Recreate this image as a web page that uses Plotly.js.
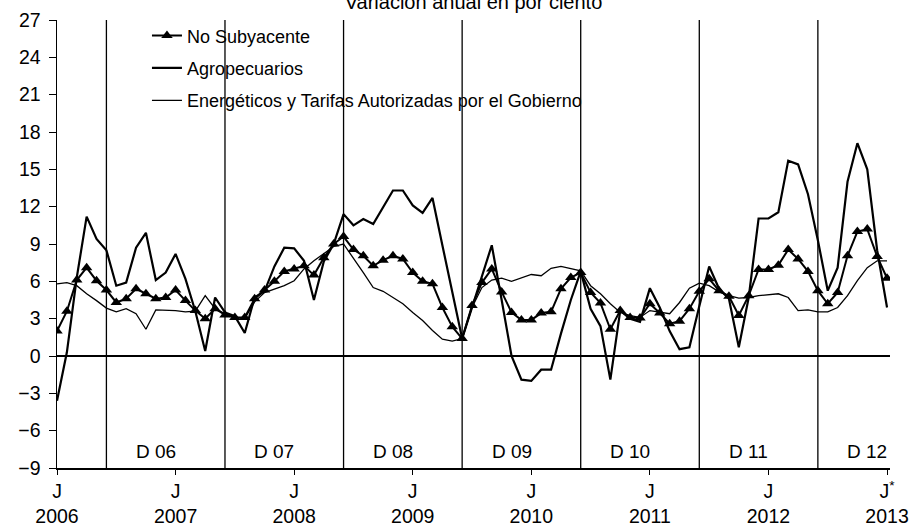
<!DOCTYPE html>
<html>
<head>
<meta charset="utf-8">
<script src="https://cdn.plot.ly/plotly-3.0.1.min.js"></script>
<style>
    html, body { margin: 0; padding: 0; background: #ffffff; }
    #chart { width: 919px; height: 531px; }
</style>
</head>
<body>
<div id="chart"></div>
<script>
// Monthly index, 0 = Julio 2006 ... 84 = Julio 2013
const noSubyacente = [
    2.0, 3.6, 6.1, 7.1, 6.05, 5.3, 4.3, 4.6, 5.4, 5.0, 4.6, 4.7,
    5.3, 4.45, 3.65, 3.0, 3.8, 3.3, 3.1, 3.1, 4.6, 5.3, 6.0, 6.8,
    7.0, 7.25, 6.5, 7.9, 9.0, 9.6, 8.55, 8.05, 7.25, 7.7, 8.05, 7.8,
    6.7, 6.0, 5.8, 3.9, 2.35, 1.4, 4.05, 5.9, 7.0, 5.15, 3.5, 2.9,
    2.9, 3.45, 3.55, 5.4, 6.3, 6.7, 5.1, 4.25, 2.15, 3.65, 3.1, 3.05,
    4.2, 3.45, 2.6, 2.8, 3.8, 5.2, 6.2, 5.25, 4.8, 3.25, 4.85, 6.95,
    6.95, 7.3, 8.55, 7.8, 6.8, 5.25, 4.2, 5.1, 8.05, 10.0, 10.2, 8.0,
    6.25
];

const agropecuarios = [
    -3.6, 0.3, 6.3, 11.2, 9.4, 8.5, 5.65, 5.9, 8.7, 9.9, 6.1, 6.7,
    8.2, 6.2, 3.6, 0.4, 4.7, 3.5, 3.2, 1.85, 4.7, 5.2, 7.2, 8.7,
    8.65, 7.65, 4.5, 7.6, 9.0, 11.4, 10.5, 11.0, 10.6, 11.95, 13.3, 13.3,
    12.1, 11.5, 12.7, 8.9, 5.2, 1.4, 3.9, 6.4, 8.9, 4.5, 0.0, -1.9,
    -2.0, -1.1, -1.1, 1.8, 4.5, 6.8, 3.8, 2.4, -1.9, 3.65, 3.0, 2.75,
    5.45, 3.9, 2.0, 0.55, 0.7, 4.0, 7.2, 5.4, 4.6, 0.7, 4.7, 11.05,
    11.05, 11.55, 15.7, 15.4, 13.0, 9.3, 5.25, 7.1, 14.0, 17.1, 15.0, 8.5,
    3.9
];

const energeticos = [
    5.8, 5.9, 5.65, 5.0, 4.45, 3.85, 3.55, 3.8, 3.4, 2.15, 3.7, 3.7,
    3.65, 3.55, 3.6, 4.85, 3.8, 3.4, 3.1, 3.0, 4.35, 5.1, 5.4, 5.65,
    6.05, 7.0, 7.65, 8.2, 8.8, 9.0, 7.9, 6.7, 5.5, 5.2, 4.7, 4.2,
    3.5, 2.85, 2.05, 1.35, 1.2, 1.4, 3.9, 5.5, 6.1, 6.25, 6.0, 6.25,
    6.55, 6.45, 7.05, 7.2, 7.05, 6.85, 5.65, 5.0, 4.2, 3.5, 3.25, 3.1,
    3.65, 3.55, 3.4, 4.3, 5.45, 5.85, 5.65, 5.15, 4.85, 4.65, 4.7, 4.85,
    4.9, 5.0, 4.7, 3.65, 3.7, 3.55, 3.55, 3.9, 4.85, 6.05, 7.1, 7.65,
    7.65
];

// x axis ticks (every July)
const tickMonths = [0, 12, 24, 36, 48, 60, 72, 84];
const tickLabels = ['J<br>2006', 'J<br>2007', 'J<br>2008', 'J<br>2009',
    'J<br>2010', 'J<br>2011', 'J<br>2012', 'J<sup>*</sup><br>2013'];

// December markers
const decMonths = [5, 17, 29, 41, 53, 65, 77];
const decLabels = ['D 06', 'D 07', 'D 08', 'D 09', 'D 10', 'D 11', 'D 12'];

const FONT = 'Liberation Sans, Arial, sans-serif';

function buildChart() {
    const months = noSubyacente.map((v, i) => i);

    const traces = [
        {
            x: months, y: noSubyacente,
            name: 'No Subyacente',
            type: 'scatter', mode: 'lines+markers',
            line: { color: '#000', width: 2 },
            marker: { symbol: 'triangle-up', size: 10, color: '#000' },
            legendgroup: 'a'
        },
        {
            x: months, y: agropecuarios,
            name: 'Agropecuarios',
            type: 'scatter', mode: 'lines',
            line: { color: '#000', width: 2.2 },
            legendgroup: 'b'
        },
        {
            x: months, y: energeticos,
            name: 'Energéticos y Tarifas Autorizadas por el Gobierno',
            type: 'scatter', mode: 'lines',
            line: { color: '#000', width: 1.3 },
            legendgroup: 'c'
        }
    ];

    // vertical December lines
    const shapes = decMonths.map(m => ({
        type: 'line', xref: 'x', yref: 'y',
        x0: m, x1: m, y0: -9, y1: 27,
        line: { color: '#000', width: 1.3 }
    }));

    const annotations = decMonths.map((m, i) => ({
        x: m + 5, y: -7.7, xref: 'x', yref: 'y',
        text: decLabels[i], showarrow: false,
        font: { family: FONT, size: 19, color: '#000' }
    }));

    const layout = {
        width: 919, height: 531,
        margin: { l: 57, r: 29, t: 20, b: 63 },
        paper_bgcolor: '#fff', plot_bgcolor: '#fff',
        font: { family: FONT, color: '#000' },
        title: {
            text: 'Variación anual en por ciento',
            font: { family: FONT, size: 20, color: '#000' },
            xref: 'paper', x: 0.5,
            yref: 'container', y: 0.997, yanchor: 'middle'
        },
        xaxis: {
            range: [0, 84.3],
            tickvals: tickMonths, ticktext: tickLabels,
            ticks: 'outside', ticklen: 5, tickcolor: '#000',
            showline: true, linecolor: '#000', linewidth: 1.5,
            showgrid: false, zeroline: false,
            tickfont: { family: FONT, size: 19.5, color: '#000' }
        },
        yaxis: {
            range: [-9, 27], dtick: 3, tick0: 0,
            ticks: 'outside', ticklen: 7, tickcolor: '#000',
            ticklabelstandoff: 4,
            showline: true, linecolor: '#000', linewidth: 1.5,
            showgrid: false,
            zeroline: true, zerolinecolor: '#000', zerolinewidth: 1.2,
            tickfont: { family: FONT, size: 19.5, color: '#000' }
        },
        showlegend: true,
        legend: {
            x: 0.108, y: 1.006, xanchor: 'left', yanchor: 'top',
            bgcolor: 'rgba(0,0,0,0)',
            traceorder: 'grouped', tracegroupgap: 6,
            font: { family: FONT, size: 18, color: '#000' }
        },
        shapes: shapes,
        annotations: annotations
    };

    Plotly.newPlot('chart', traces, layout, { displayModeBar: false, staticPlot: true });
}

document.addEventListener('DOMContentLoaded', buildChart);
</script>
</body>
</html>
